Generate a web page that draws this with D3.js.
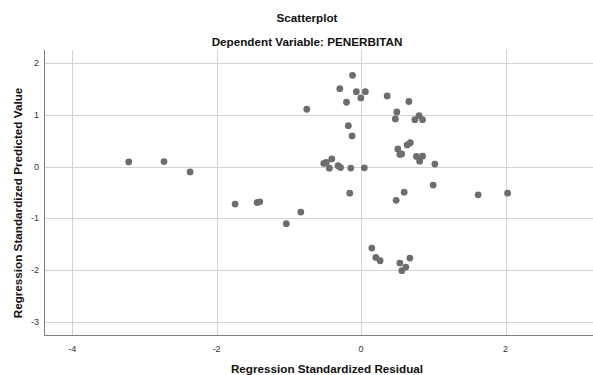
<!DOCTYPE html>
<html>
<head>
<meta charset="utf-8">
<script src="https://cdn.jsdelivr.net/npm/d3@7"></script>
<style>
    body { margin: 0; background: #fff; }
    svg { display: block; font-family: 'Liberation Sans', Arial, sans-serif; }
    .grid line { stroke: #d2d2d2; stroke-width: 1; shape-rendering: crispEdges; }
    .axis-line { stroke: #7f7f7f; stroke-width: 1; shape-rendering: crispEdges; }
    .tick-label { font-size: 9px; fill: #333; }
    .title { font-size: 11.7px; font-weight: bold; fill: #111; }
    .axis-title { font-size: 11.7px; font-weight: bold; fill: #111; }
    .dot { fill: #6d6d6d; }
</style>
</head>
<body>
<div id="chart"></div>
<script>
(function (d3) {
    'use strict';

    // Regression Standardized Residual (x) and Predicted Value (y).
    var residual = [
        -3.217, -2.729, -2.368, -1.745, -1.440, -1.403, -0.835, -1.036, -0.752,
        -0.517, -0.482, -0.406, -0.440, -0.319, -0.285, -0.143, 0.044, -0.157,
        -0.125, -0.177, -0.119, -0.295, -0.066, 0.058, -0.004, -0.202, 0.360,
        0.661, 0.494, 0.474, 0.744, 0.802, 0.850, 0.508, 0.536, 0.561,
        0.637, 0.681, 0.765, 0.850, 0.810, 1.021, 0.997, 0.596, 0.485,
        1.620, 2.028, 0.148, 0.204, 0.263, 0.536, 0.675, 0.619, 0.564
    ];
    var predicted = [
        0.093, 0.099, -0.101, -0.725, -0.694, -0.681, -0.880, -1.103, 1.112,
        0.064, 0.083, 0.151, -0.029, 0.019, -0.017, -0.027, -0.023, -0.513,
        0.596, 0.795, 1.770, 1.511, 1.453, 1.453, 1.331, 1.248, 1.369,
        1.263, 1.060, 0.925, 0.911, 0.988, 0.911, 0.344, 0.238, 0.248,
        0.422, 0.464, 0.199, 0.203, 0.106, 0.050, -0.356, -0.493, -0.652,
        -0.545, -0.513, -1.576, -1.758, -1.822, -1.867, -1.770, -1.944, -2.015
    ];
    var xTicks = [-4, -2, 0, 2];
    var yTicks = [-3, -2, -1, 0, 1, 2];

    var width = 593;
    var height = 375;
    var plot = {left: 44, right: 593, top: 50, bottom: 335};

    var svg = d3.select('#chart').append('svg')
        .attr('width', width)
        .attr('height', height)
    ;

    var x = d3.scaleLinear().domain([-4.39, 3.21]).range([plot.left, plot.right]);
    var y = d3.scaleLinear().domain([-3.26, 2.26]).range([plot.bottom, plot.top]);

    // Gridlines.
    var grid = svg.append('g').attr('class', 'grid');
    grid.selectAll('.gx').data(xTicks).enter().append('line')
        .attr('x1', function (d) { return Math.round(x(d)) + 0.5; })
        .attr('x2', function (d) { return Math.round(x(d)) + 0.5; })
        .attr('y1', plot.top)
        .attr('y2', plot.bottom)
    ;
    grid.selectAll('.gy').data(yTicks).enter().append('line')
        .attr('x1', plot.left)
        .attr('x2', plot.right)
        .attr('y1', function (d) { return Math.round(y(d)) + 0.5; })
        .attr('y2', function (d) { return Math.round(y(d)) + 0.5; })
    ;

    // Axis lines.
    svg.append('line').attr('class', 'axis-line')
        .attr('x1', plot.left + 0.5).attr('x2', plot.left + 0.5)
        .attr('y1', plot.top).attr('y2', plot.bottom + 1)
    ;
    svg.append('line').attr('class', 'axis-line')
        .attr('x1', plot.left).attr('x2', plot.right)
        .attr('y1', plot.bottom + 0.5).attr('y2', plot.bottom + 0.5)
    ;

    // Tick labels.
    svg.selectAll('.xl').data(xTicks).enter().append('text')
        .attr('class', 'tick-label')
        .attr('x', function (d) { return x(d); })
        .attr('y', 352)
        .attr('text-anchor', 'middle')
        .text(function (d) { return d; })
    ;
    svg.selectAll('.yl').data(yTicks).enter().append('text')
        .attr('class', 'tick-label')
        .attr('x', 39)
        .attr('y', function (d) { return y(d) + 3; })
        .attr('text-anchor', 'end')
        .text(function (d) { return d; })
    ;

    // Points.
    svg.append('g').selectAll('circle').data(residual).enter().append('circle')
        .attr('class', 'dot')
        .attr('cx', function (d) { return x(d); })
        .attr('cy', function (d, i) { return y(predicted[i]); })
        .attr('r', 3.4)
    ;

    // Titles.
    svg.append('text').attr('class', 'title')
        .attr('x', 307).attr('y', 22).attr('text-anchor', 'middle')
        .text('Scatterplot');
    svg.append('text').attr('class', 'title')
        .attr('x', 307).attr('y', 46).attr('text-anchor', 'middle')
        .text('Dependent Variable: PENERBITAN');
    svg.append('text').attr('class', 'axis-title')
        .attr('x', 327).attr('y', 373).attr('text-anchor', 'middle')
        .text('Regression Standardized Residual');
    svg.append('text').attr('class', 'axis-title')
        .attr('transform', 'translate(22, 203) rotate(-90)')
        .attr('text-anchor', 'middle')
        .text('Regression Standardized Predicted Value');

})(d3);
</script>
</body>
</html>
